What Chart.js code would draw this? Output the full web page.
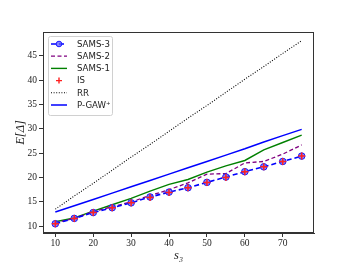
<!DOCTYPE html>
<html>
<head>
<meta charset="utf-8">
<script src="https://cdn.jsdelivr.net/npm/chart.js@4/dist/chart.umd.min.js"></script>
<style>
  html, body { margin: 0; padding: 0; background: #fff; }
  #wrap { width: 349px; height: 262px; }
</style>
</head>
<body>
<div id="wrap"><canvas id="grafico" width="349" height="262"></canvas></div>
<script>
// valores
const s3 = [10, 15, 20, 25, 30, 35, 40, 45, 50, 55, 60, 65, 70, 75];
const sams3 = [10.5, 11.6, 12.8, 13.8, 14.8, 16.0, 17.0, 17.9, 19.0, 20.1, 21.2, 22.2, 23.3, 24.4];
const sams2 = [10.7, 11.6, 13.0, 14.0, 15.0, 16.3, 17.5, 18.9, 20.7, 20.8, 23.0, 23.3, 24.8, 26.7];
const sams1 = [10.9, 11.7, 13.1, 14.4, 15.7, 17.2, 18.6, 19.6, 21.1, 22.4, 23.5, 25.7, 27.2, 28.7];
const isVals = [10.5, 11.6, 12.8, 13.8, 14.8, 15.9, 16.9, 17.9, 19.0, 20.0, 21.2, 22.2, 23.3, 24.4];
const rr = [13.5, 16.2, 18.8, 21.5, 24.2, 26.8, 29.5, 32.2, 34.8, 37.5, 40.2, 42.8, 45.5, 48.1];
const pgaw = [12.9, 14.2, 15.5, 16.8, 18.1, 19.4, 20.7, 22.0, 23.3, 24.6, 25.9, 27.3, 28.6, 29.9];
const xTicks = [10, 20, 30, 40, 50, 60, 70];
const yTicks = [10, 15, 20, 25, 30, 35, 40, 45];

const pts = arr => s3.map((x, i) => ({ x: x, y: arr[i] }));

const serif = "'Liberation Serif', 'DejaVu Serif', serif";

// legenda dentro do gráfico, como no matplotlib
const legendaInterna = {
  id: 'legendaInterna',
  afterDraw(chart) {
    const c = chart.ctx;
    const a = chart.chartArea;
    // moldura dos eixos
    c.save();
    c.strokeStyle = '#333';
    c.lineWidth = 1;
    c.strokeRect(a.left + 0.5, a.top + 0.5, a.right - a.left - 1, a.bottom - a.top - 1);

    const x0 = a.left + 5, y0 = a.top + 4, w = 64, h = 79;
    c.fillStyle = 'rgba(255,255,255,0.85)';
    c.strokeStyle = '#d0d0d0';
    c.beginPath();
    c.roundRect(x0 + 0.5, y0 + 0.5, w, h, 2);
    c.fill();
    c.stroke();

    const itens = chart.data.datasets.map(d => d).sort((p, q) => p.legendIndex - q.legendIndex);
    c.font = "8.6px 'DejaVu Sans', sans-serif";
    c.textBaseline = 'middle';
    itens.forEach((d, i) => {
      const y = y0 + 8 + i * 12.2;
      const l1 = x0 + 3, l2 = x0 + 19, mx = (l1 + l2) / 2;
      if (d.showLine !== false) {
        c.strokeStyle = d.borderColor;
        c.lineWidth = d.borderWidth;
        c.setLineDash(d.borderDash || []);
        c.beginPath();
        c.moveTo(l1, y);
        c.lineTo(l2, y);
        c.stroke();
        c.setLineDash([]);
      }
      if (d.legendMarker === 'circle') {
        c.fillStyle = d.pointBackgroundColor;
        c.strokeStyle = d.pointBorderColor;
        c.lineWidth = 1;
        c.beginPath();
        c.arc(mx, y, 2.8, 0, Math.PI * 2);
        c.fill();
        c.stroke();
      } else if (d.legendMarker === 'cross') {
        c.strokeStyle = d.pointBorderColor;
        c.lineWidth = 1.4;
        c.beginPath();
        c.moveTo(mx - 3, y); c.lineTo(mx + 3, y);
        c.moveTo(mx, y - 3); c.lineTo(mx, y + 3);
        c.stroke();
      }
      c.fillStyle = '#222';
      c.fillText(d.label, x0 + 29, y + 0.5);
    });
    c.restore();
  }
};

const ctx = document.getElementById('grafico');

new Chart(ctx, {
  type: 'line',
  data: {
    datasets: [
      {
        label: 'IS', legendIndex: 3, legendMarker: 'cross', order: 0,
        data: pts(isVals), showLine: false,
        pointStyle: 'cross', pointRadius: 3.5, pointBorderWidth: 1.5,
        pointBorderColor: '#ff2020', pointBackgroundColor: '#ff2020',
        borderColor: '#ff2020', borderWidth: 1.5
      },
      {
        label: 'SAMS-3', legendIndex: 0, legendMarker: 'circle', order: 1,
        data: pts(sams3),
        borderColor: '#0000ff', borderWidth: 1.6, borderDash: [5, 3],
        pointRadius: 3.3, pointBorderWidth: 1,
        pointBorderColor: '#1a1aff', pointBackgroundColor: 'rgba(90,90,255,0.75)'
      },
      {
        label: 'SAMS-2', legendIndex: 1, order: 2,
        data: pts(sams2),
        borderColor: '#800080', borderWidth: 1.3, borderDash: [4, 2.5], pointRadius: 0
      },
      {
        label: 'SAMS-1', legendIndex: 2, order: 3,
        data: pts(sams1),
        borderColor: '#008000', borderWidth: 1.4, pointRadius: 0
      },
      {
        label: 'RR', legendIndex: 4, order: 4,
        data: pts(rr),
        borderColor: '#000000', borderWidth: 1.1, borderDash: [1, 1.6], pointRadius: 0
      },
      {
        label: 'P-GAW⁺', legendIndex: 5, order: 5,
        data: pts(pgaw),
        borderColor: '#0000ff', borderWidth: 1.5, pointRadius: 0
      }
    ]
  },
  options: {
    responsive: false,
    animation: false,
    layout: { padding: { top: 32, right: 35, left: 0, bottom: 0 } },
    elements: { line: { tension: 0, fill: false } },
    plugins: { legend: { display: false }, tooltip: { enabled: false } },
    scales: {
      x: {
        type: 'linear', min: 6.75, max: 78.25,
        afterBuildTicks: s => { s.ticks = xTicks.map(v => ({ value: v })); },
        afterFit: s => { s.height = 29; },
        grid: { drawOnChartArea: false, drawTicks: true, tickLength: 4, color: '#333' },
        border: { color: '#333' },
        ticks: { color: '#222', padding: 1, maxRotation: 0, font: { family: serif, size: 9.5 } },
        title: {
          display: true, text: 's₃', color: '#222',
          font: { family: serif, size: 12.5, style: 'italic' },
          padding: { top: 0, bottom: -1 }
        }
      },
      y: {
        min: 8.6, max: 49.9,
        afterBuildTicks: s => { s.ticks = yTicks.map(v => ({ value: v })); },
        afterFit: s => { s.width = 43; },
        grid: { drawOnChartArea: false, drawTicks: true, tickLength: 4, color: '#333' },
        border: { color: '#333' },
        ticks: { color: '#222', padding: 2, font: { family: serif, size: 9.5 } },
        title: {
          display: true, text: 'E[Δ]', color: '#222',
          font: { family: serif, size: 12.5, style: 'italic' },
          padding: { top: 13, bottom: 0 }
        }
      }
    }
  },
  plugins: [legendaInterna]
});
</script>
</body>
</html>
